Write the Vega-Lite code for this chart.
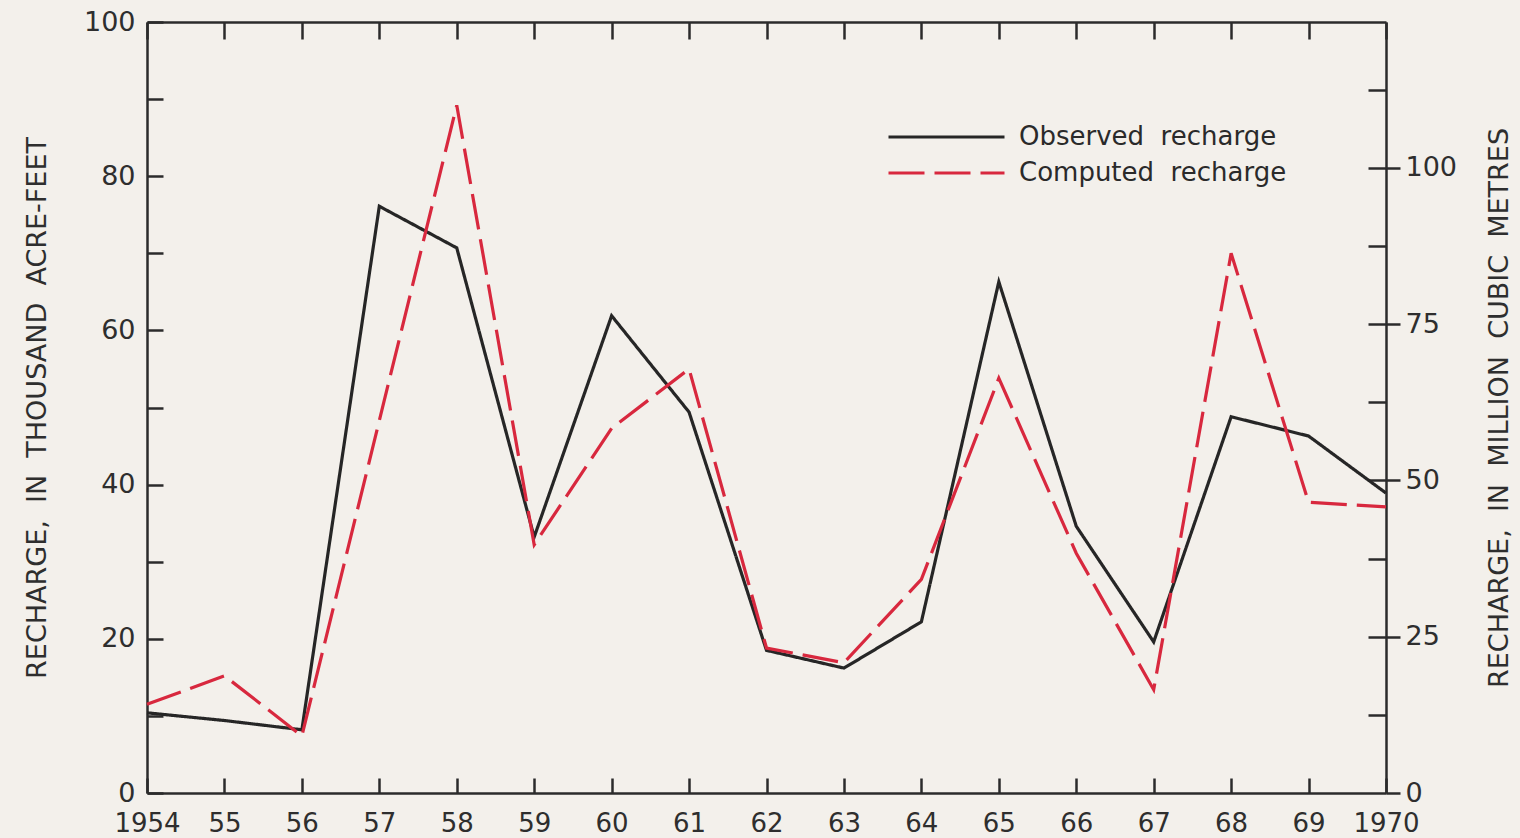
{
  "$schema": "https://vega.github.io/schema/vega-lite/v6.json",
  "width": 1239,
  "height": 771,
  "autosize": "none",
  "padding": {"left": 147, "top": 22, "right": 134, "bottom": 45},
  "background": "#f3f0eb",
  "data": {"values": [
    {"year": 1954, "series": "Observed recharge", "value": 10.4},
    {"year": 1955, "series": "Observed recharge", "value": 9.4},
    {"year": 1956, "series": "Observed recharge", "value": 8.2},
    {"year": 1957, "series": "Observed recharge", "value": 76.1},
    {"year": 1958, "series": "Observed recharge", "value": 70.7},
    {"year": 1959, "series": "Observed recharge", "value": 33.2},
    {"year": 1960, "series": "Observed recharge", "value": 61.9},
    {"year": 1961, "series": "Observed recharge", "value": 49.4},
    {"year": 1962, "series": "Observed recharge", "value": 18.5},
    {"year": 1963, "series": "Observed recharge", "value": 16.2},
    {"year": 1964, "series": "Observed recharge", "value": 22.2},
    {"year": 1965, "series": "Observed recharge", "value": 66.3},
    {"year": 1966, "series": "Observed recharge", "value": 34.6},
    {"year": 1967, "series": "Observed recharge", "value": 19.6},
    {"year": 1968, "series": "Observed recharge", "value": 48.8},
    {"year": 1969, "series": "Observed recharge", "value": 46.3},
    {"year": 1970, "series": "Observed recharge", "value": 38.9},
    {"year": 1954, "series": "Computed recharge", "value": 11.5},
    {"year": 1955, "series": "Computed recharge", "value": 15.2},
    {"year": 1956, "series": "Computed recharge", "value": 7.4},
    {"year": 1957, "series": "Computed recharge", "value": 48.3},
    {"year": 1958, "series": "Computed recharge", "value": 89.2},
    {"year": 1959, "series": "Computed recharge", "value": 32.2},
    {"year": 1960, "series": "Computed recharge", "value": 47.3},
    {"year": 1961, "series": "Computed recharge", "value": 55.0},
    {"year": 1962, "series": "Computed recharge", "value": 18.8},
    {"year": 1963, "series": "Computed recharge", "value": 16.9},
    {"year": 1964, "series": "Computed recharge", "value": 27.7},
    {"year": 1965, "series": "Computed recharge", "value": 53.8},
    {"year": 1966, "series": "Computed recharge", "value": 31.1},
    {"year": 1967, "series": "Computed recharge", "value": 13.4},
    {"year": 1968, "series": "Computed recharge", "value": 70.0},
    {"year": 1969, "series": "Computed recharge", "value": 37.7},
    {"year": 1970, "series": "Computed recharge", "value": 37.1}
  ]},
  "layer": [
    {
      "mark": {"type": "line", "strokeWidth": 3.2},
      "encoding": {
        "x": {
          "field": "year", "type": "quantitative",
          "scale": {"domain": [1954, 1970], "nice": false, "zero": false},
          "axis": {
            "orient": "bottom", "title": null,
            "values": [1954,1955,1956,1957,1958,1959,1960,1961,1962,1963,1964,1965,1966,1967,1968,1969,1970],
            "labelExpr": "datum.value == 1954 || datum.value == 1970 ? '' + datum.value : substring('' + datum.value, 2)",
            "labelOverlap": false, "labelFlush": false,
            "tickSize": -15, "labelPadding": 32, "labelFontSize": 26, "labelBaseline": "top"
          }
        },
        "y": {
          "field": "value", "type": "quantitative",
          "scale": {"domain": [0, 100], "nice": false},
          "axis": {
            "orient": "left",
            "title": "RECHARGE,\u00a0 IN\u00a0 THOUSAND\u00a0 ACRE-FEET",
            "values": [0,10,20,30,40,50,60,70,80,90,100],
            "labelExpr": "datum.value % 20 == 0 ? '' + datum.value : ''",
            "labelOverlap": false, "labelFlush": false,
            "tickSize": -16, "labelPadding": 28, "labelFontSize": 27,
            "titleFontSize": 27, "titleFontWeight": "normal", "titlePadding": 32
          }
        },
        "color": {
          "field": "series", "type": "nominal",
          "scale": {"domain": ["Observed recharge", "Computed recharge"], "range": ["#262626", "#d8283e"]},
          "legend": {
            "orient": "none", "legendX": 740, "legendY": 99, "title": null,
            "symbolType": "M-1,0H7", "symbolSize": 841, "symbolStrokeWidth": 3,
            "labelFontSize": 26, "labelOffset": 100, "rowPadding": 7, "padding": 0,
            "labelLimit": 0, "labelExpr": "replace(datum.label, ' ', '\u00a0 ')",
            "labelColor": "#2a2a2a", "labelFont": "DejaVu Sans"
          }
        },
        "strokeDash": {
          "field": "series", "type": "nominal",
          "scale": {"domain": ["Observed recharge", "Computed recharge"], "range": [[1, 0], [36, 10]]},
          "legend": null
        }
      }
    },
    {
      "mark": {"type": "point", "opacity": 0},
      "encoding": {
        "x": {
          "field": "year", "type": "quantitative",
          "axis": {
            "orient": "top", "title": null, "labels": false,
            "values": [1954,1955,1956,1957,1958,1959,1960,1961,1962,1963,1964,1965,1966,1967,1968,1969,1970],
            "tickSize": -17
          }
        },
        "y": {
          "field": "value", "type": "quantitative",
          "scale": {"domain": [0, 123.35], "nice": false},
          "axis": {
            "orient": "right",
            "title": "RECHARGE,\u00a0 IN\u00a0 MILLION\u00a0 CUBIC\u00a0 METRES",
            "titleAngle": -90,
            "values": [0, 25, 50, 75, 100],
            "labelOverlap": false, "labelFlush": false,
            "tickSize": 14, "labelPadding": 5, "labelFontSize": 27,
            "titleFontSize": 27, "titleFontWeight": "normal", "titlePadding": 57
          }
        }
      }
    },
    {
      "mark": {"type": "point", "opacity": 0},
      "encoding": {
        "x": {"field": "year", "type": "quantitative", "axis": null},
        "y": {
          "field": "value", "type": "quantitative",
          "scale": {"domain": [0, 123.35], "nice": false},
          "axis": {
            "orient": "right", "title": null, "labels": false, "domain": false,
            "values": [12.5, 25, 37.5, 50, 62.5, 75, 87.5, 100, 112.5],
            "tickSize": -18
          }
        }
      }
    }
  ],
  "resolve": {"scale": {"y": "independent"}, "axis": {"x": "independent", "y": "independent"}},
  "config": {
    "view": {"stroke": null},
    "axis": {
      "grid": false,
      "domainColor": "#2b2b2b", "domainWidth": 2.5,
      "tickColor": "#2b2b2b", "tickWidth": 2.5,
      "labelColor": "#2e2e2e", "titleColor": "#2e2e2e",
      "labelFont": "DejaVu Sans", "titleFont": "DejaVu Sans"
    }
  }
}
